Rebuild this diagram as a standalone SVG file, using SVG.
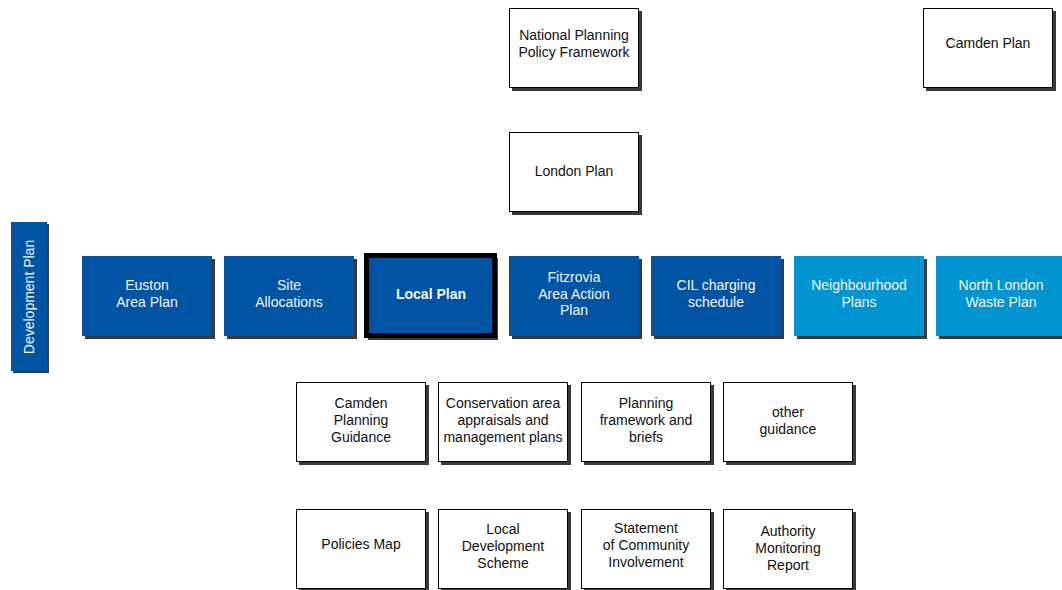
<svg xmlns="http://www.w3.org/2000/svg" width="1062" height="590" viewBox="0 0 1062 590">
<style>
text{font-family:"Liberation Sans",Arial,sans-serif;font-size:14px;text-anchor:middle}
.sh{fill:#3a3a3a}
.w{fill:#fff;stroke:#000;stroke-width:1}
.d{fill:#0054a4}
.l{fill:#0095d0}
.tw{fill:#f4f4f4}
.tb{fill:#111}
</style>
<rect width="1062" height="590" fill="#fff"/>
<g id="connectors"></g>
<g id="nppf"><rect class="sh" x="512" y="11" width="130" height="80"/><rect class="w" x="509.5" y="8.5" width="129" height="79"/><text class="tb" x="574" y="40">National Planning</text><text class="tb" x="574" y="57">Policy Framework</text></g>
<g id="camden-plan"><rect class="sh" x="926" y="11" width="130" height="80"/><rect class="w" x="923.5" y="8.5" width="129" height="79"/><text class="tb" x="988" y="48">Camden Plan</text></g>
<g id="london-plan"><rect class="sh" x="512" y="135" width="130" height="80"/><rect class="w" x="509.5" y="132.5" width="129" height="79"/><text class="tb" x="574" y="176">London Plan</text></g>
<g id="development-plan"><rect class="sh" x="13" y="224" width="36" height="149"/><rect class="d" x="11" y="222" width="36" height="149"/><text class="tw" transform="translate(34 297) rotate(-90)">Development Plan</text></g>
<g id="euston"><rect class="sh" x="85" y="259" width="130" height="80"/><rect class="d" x="82" y="256" width="130" height="80"/><text class="tw" x="147" y="290">Euston</text><text class="tw" x="147" y="307">Area Plan</text></g>
<g id="site-allocations"><rect class="sh" x="227" y="259" width="130" height="80"/><rect class="d" x="224" y="256" width="130" height="80"/><text class="tw" x="289" y="290">Site</text><text class="tw" x="289" y="307">Allocations</text></g>
<g id="local-plan"><rect class="sh" x="368" y="258" width="130" height="82"/><rect class="d" x="366.5" y="255.5" width="128" height="80" stroke="#000" stroke-width="5"/><text class="tw" x="431" y="299" font-weight="bold">Local Plan</text></g>
<g id="fitzrovia"><rect class="sh" x="512" y="259" width="130" height="80"/><rect class="d" x="509" y="256" width="130" height="80"/><text class="tw" x="574" y="282">Fitzrovia</text><text class="tw" x="574" y="299">Area Action</text><text class="tw" x="574" y="315">Plan</text></g>
<g id="cil"><rect class="sh" x="654" y="259" width="130" height="80"/><rect class="d" x="651" y="256" width="130" height="80"/><text class="tw" x="716" y="290">CIL charging</text><text class="tw" x="716" y="307">schedule</text></g>
<g id="neighbourhood"><rect class="sh" x="797" y="259" width="130" height="80"/><rect class="l" x="794" y="256" width="130" height="80"/><text class="tw" x="859" y="290">Neighbourhood</text><text class="tw" x="859" y="307">Plans</text></g>
<g id="north-london"><rect class="sh" x="939" y="259" width="130" height="80"/><rect class="l" x="936" y="256" width="130" height="80"/><text class="tw" x="1001" y="290">North London</text><text class="tw" x="1001" y="307">Waste Plan</text></g>
<g id="cpg"><rect class="sh" x="299" y="385" width="130" height="80"/><rect class="w" x="296.5" y="382.5" width="129" height="79"/><text class="tb" x="361" y="408">Camden</text><text class="tb" x="361" y="425">Planning</text><text class="tb" x="361" y="442">Guidance</text></g>
<g id="conservation"><rect class="sh" x="441" y="385" width="130" height="80"/><rect class="w" x="438.5" y="382.5" width="129" height="79"/><text class="tb" x="503" y="408">Conservation area</text><text class="tb" x="503" y="425">appraisals and</text><text class="tb" x="503" y="442">management plans</text></g>
<g id="planning-framework"><rect class="sh" x="584" y="385" width="130" height="80"/><rect class="w" x="581.5" y="382.5" width="129" height="79"/><text class="tb" x="646" y="408">Planning</text><text class="tb" x="646" y="425">framework and</text><text class="tb" x="646" y="442">briefs</text></g>
<g id="other-guidance"><rect class="sh" x="726" y="385" width="130" height="80"/><rect class="w" x="723.5" y="382.5" width="129" height="79"/><text class="tb" x="788" y="417">other</text><text class="tb" x="788" y="434">guidance</text></g>
<g id="policies-map"><rect class="sh" x="299" y="512" width="130" height="80"/><rect class="w" x="296.5" y="509.5" width="129" height="79"/><text class="tb" x="361" y="549">Policies Map</text></g>
<g id="lds"><rect class="sh" x="441" y="512" width="130" height="80"/><rect class="w" x="438.5" y="509.5" width="129" height="79"/><text class="tb" x="503" y="534">Local</text><text class="tb" x="503" y="551">Development</text><text class="tb" x="503" y="568">Scheme</text></g>
<g id="sci"><rect class="sh" x="584" y="512" width="130" height="80"/><rect class="w" x="581.5" y="509.5" width="129" height="79"/><text class="tb" x="646" y="533">Statement</text><text class="tb" x="646" y="550">of Community</text><text class="tb" x="646" y="567">Involvement</text></g>
<g id="amr"><rect class="sh" x="726" y="512" width="130" height="80"/><rect class="w" x="723.5" y="509.5" width="129" height="79"/><text class="tb" x="788" y="536">Authority</text><text class="tb" x="788" y="553">Monitoring</text><text class="tb" x="788" y="570">Report</text></g>
</svg>
